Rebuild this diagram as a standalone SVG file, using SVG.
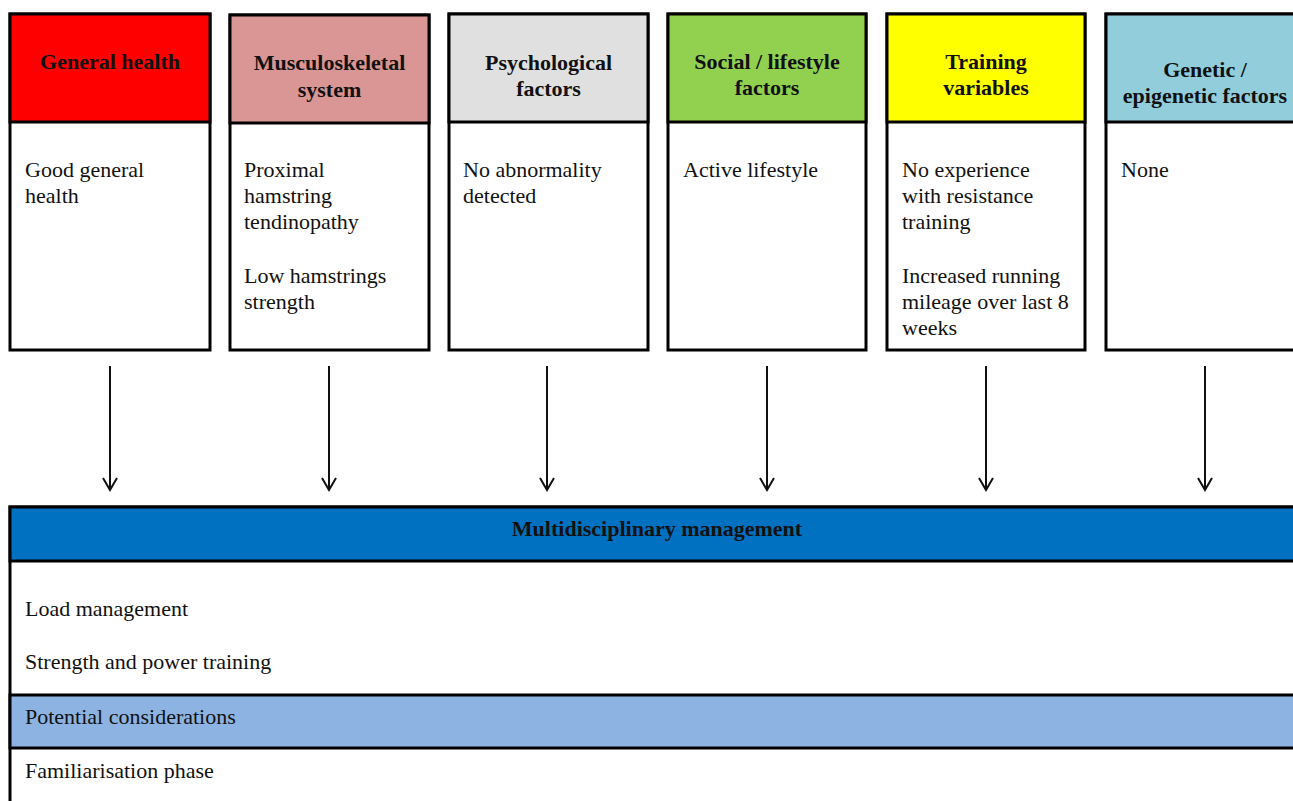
<svg xmlns="http://www.w3.org/2000/svg" width="1293" height="801" viewBox="0 0 1293 801">
<style>
.box{fill:#fff;stroke:#000;stroke-width:3}
.hd{stroke:#000;stroke-width:3}
.ht{font-family:"Liberation Serif","Times New Roman",serif;font-weight:bold;font-size:22px;fill:#111;text-anchor:middle}
.bt{font-family:"Liberation Serif","Times New Roman",serif;font-size:22px;fill:#111}
.ar{stroke:#111;stroke-width:2;fill:none}
</style>
<defs>
<marker id="arr" markerWidth="16" markerHeight="16" refX="13" refY="8" orient="auto" markerUnits="userSpaceOnUse" viewBox="0 0 16 16">
<path d="M1,1 L13,8 L1,15" fill="none" stroke="#111" stroke-width="2"/>
</marker>
</defs>
<rect width="1293" height="801" fill="#fff"/>

<g id="general-health">
<rect class="box" x="10" y="14" width="200" height="336"/>
<rect class="hd" x="10" y="14" width="200" height="108" fill="#ff0000"/>
<text class="ht" x="110" y="69">General health</text>
<text class="bt" x="25" y="177">Good general</text>
<text class="bt" x="25" y="203">health</text>
</g>

<g id="musculoskeletal">
<rect class="box" x="230" y="15" width="199" height="335"/>
<rect class="hd" x="230" y="15" width="199" height="108" fill="#da9694"/>
<text class="ht" x="329.5" y="70">Musculoskeletal</text>
<text class="ht" x="329.5" y="97">system</text>
<text class="bt" x="244" y="177">Proximal</text>
<text class="bt" x="244" y="203">hamstring</text>
<text class="bt" x="244" y="229">tendinopathy</text>
<text class="bt" x="244" y="283">Low hamstrings</text>
<text class="bt" x="244" y="309">strength</text>
</g>

<g id="psychological">
<rect class="box" x="449" y="14" width="199" height="336"/>
<rect class="hd" x="449" y="14" width="199" height="108" fill="#e0e0e0"/>
<text class="ht" x="548.5" y="70">Psychological</text>
<text class="ht" x="548.5" y="96">factors</text>
<text class="bt" x="463" y="177">No abnormality</text>
<text class="bt" x="463" y="203">detected</text>
</g>

<g id="social-lifestyle">
<rect class="box" x="668" y="14" width="198" height="336"/>
<rect class="hd" x="668" y="14" width="198" height="108" fill="#92d050"/>
<text class="ht" x="767" y="69">Social / lifestyle</text>
<text class="ht" x="767" y="95">factors</text>
<text class="bt" x="683" y="177">Active lifestyle</text>
</g>

<g id="training-variables">
<rect class="box" x="887" y="14" width="198" height="336"/>
<rect class="hd" x="887" y="14" width="198" height="108" fill="#ffff00"/>
<text class="ht" x="986" y="69">Training</text>
<text class="ht" x="986" y="95">variables</text>
<text class="bt" x="902" y="177">No experience</text>
<text class="bt" x="902" y="203">with resistance</text>
<text class="bt" x="902" y="229">training</text>
<text class="bt" x="902" y="283">Increased running</text>
<text class="bt" x="902" y="309">mileage over last 8</text>
<text class="bt" x="902" y="335">weeks</text>
</g>

<g id="genetic">
<rect class="box" x="1106" y="14" width="200" height="336"/>
<rect class="hd" x="1106" y="14" width="200" height="108" fill="#92cddc"/>
<text class="ht" x="1205" y="77">Genetic /</text>
<text class="ht" x="1205" y="103">epigenetic factors</text>
<text class="bt" x="1121" y="177">None</text>
</g>

<g id="connectors">
<line class="ar" x1="110" y1="366" x2="110" y2="490" marker-end="url(#arr)"/>
<line class="ar" x1="329" y1="366" x2="329" y2="490" marker-end="url(#arr)"/>
<line class="ar" x1="547" y1="366" x2="547" y2="490" marker-end="url(#arr)"/>
<line class="ar" x1="767" y1="366" x2="767" y2="490" marker-end="url(#arr)"/>
<line class="ar" x1="986" y1="366" x2="986" y2="490" marker-end="url(#arr)"/>
<line class="ar" x1="1205" y1="366" x2="1205" y2="490" marker-end="url(#arr)"/>
</g>

<g id="multidisciplinary-management">
<rect class="box" x="10" y="507" width="1300" height="310"/>
<rect class="hd" x="10" y="507" width="1300" height="54" fill="#0070c0"/>
<text class="ht" x="657" y="536">Multidisciplinary management</text>
<text class="bt" x="25" y="616">Load management</text>
<text class="bt" x="25" y="669">Strength and power training</text>
<rect class="hd" x="10" y="695" width="1300" height="53" fill="#8db3e2"/>
<text class="bt" x="25" y="724">Potential considerations</text>
<text class="bt" x="25" y="778">Familiarisation phase</text>
</g>
</svg>
